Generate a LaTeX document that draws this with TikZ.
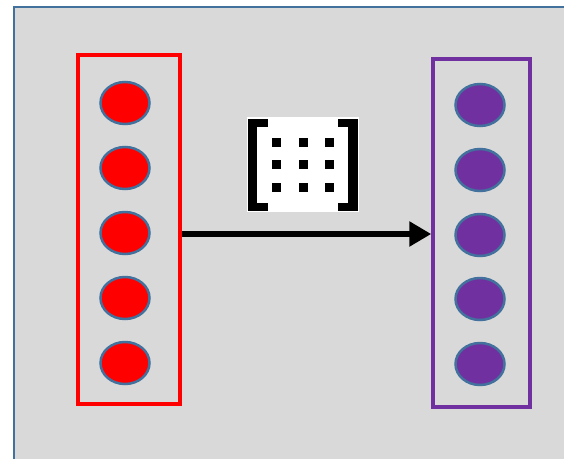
\documentclass[tikz,border=0pt]{standalone}
\usetikzlibrary{arrows.meta,shapes.geometric}
\definecolor{bggray}{HTML}{D9D9D9}
\definecolor{frameblue}{HTML}{41719C}
\definecolor{dotborder}{HTML}{41719C}
\definecolor{vred}{HTML}{FF0000}
\definecolor{vpurple}{HTML}{7030A0}
\tikzset{
  inbox/.style={draw=vred, line width=3.5pt, minimum width=102pt, minimum height=349pt, inner sep=0pt},
  outbox/.style={draw=vpurple, line width=3.5pt, minimum width=97pt, minimum height=348pt, inner sep=0pt},
  neuron/.style={ellipse, draw=dotborder, line width=2.5pt, minimum width=49pt, minimum height=42pt, inner sep=0pt},
  inneuron/.style={neuron, fill=vred},
  outneuron/.style={neuron, fill=vpurple},
  link/.style={line width=6pt, -{Triangle[length=22pt,width=24pt]}},
  ink/.style={fill=black, draw=none}
}
\begin{document}
\begin{tikzpicture}[x=1pt,y=-1pt]
\useasboundingbox (0,0) rectangle (564,458);
\fill[white] (0,0) rectangle (564,458);
\draw[frameblue, line width=2.5pt, fill=bggray] (14,7) rectangle (570,470);
% boxes
\node[inbox] (inb) at (129,229.5) {};
\node[outbox] (outb) at (481.5,233) {};
% neurons
\foreach \y [count=\i] in {103,168,233,298,363} {
  \node[inneuron] (a\i) at (125,\y) {};
}
\foreach \y [count=\i] in {105,170,235,299,364} {
  \node[outneuron] (b\i) at (480,\y) {};
}
% arrow
\draw[link] (inb.east |- 0,234) -- (outb.west |- 0,234);
% matrix icon
\node[fill=white, minimum width=112pt, minimum height=95pt, inner sep=0pt] (mat) at (303,164) {};
% left bracket
\fill[ink] (248,119) rectangle (257,211);
\fill[ink] (248,119) rectangle (268,127);
\fill[ink] (248,203) rectangle (268,211);
% right bracket
\fill[ink] (348,119) rectangle (358,211);
\fill[ink] (338,119) rectangle (358,127);
\fill[ink] (338,203) rectangle (358,211);
% dots
\foreach \x in {276,303,329} {
  \foreach \y in {142,164,187} {
    \fill[ink] (\x-4.5,\y-4.5) rectangle (\x+4.5,\y+4.5);
  }
}
\end{tikzpicture}
\end{document}
